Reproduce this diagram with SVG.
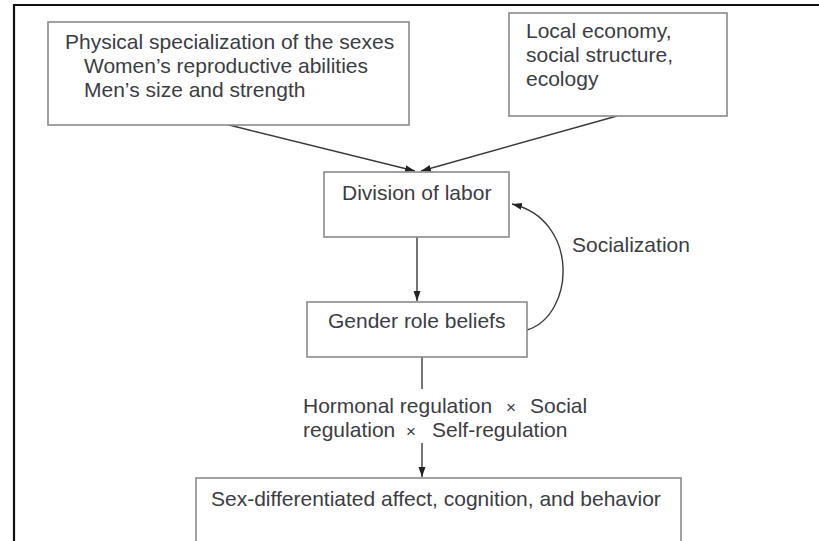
<svg xmlns="http://www.w3.org/2000/svg" width="819" height="541" viewBox="0 0 819 541">
  <style>
    .box { fill: #ffffff; stroke: #8a8a8a; stroke-width: 1.6; }
    .lbl { font-family: "Liberation Sans", Arial, sans-serif; font-size: 21px; fill: #3c3c44; }
    .edge { fill: none; stroke: #3a3a3a; stroke-width: 1.4; }
    .frame { fill: none; stroke: #111111; stroke-width: 2.2; }
  </style>
  <defs>
    <marker id="arrow" markerUnits="userSpaceOnUse" markerWidth="11" markerHeight="8" refX="10" refY="3.5" orient="auto">
      <path d="M0,0 L10,3.5 L0,7 z" fill="#222222"/>
    </marker>
  </defs>
  <rect x="0" y="0" width="819" height="541" fill="#ffffff"/>

  <!-- page frame (left and top rules) -->
  <path class="frame" d="M14,541 L14,5 L819,5"/>

  <g id="connectors">
    <line class="edge" x1="229" y1="125" x2="415" y2="171" marker-end="url(#arrow)"/>
    <line class="edge" x1="617" y1="116" x2="421" y2="171" marker-end="url(#arrow)"/>
    <line class="edge" x1="417" y1="237" x2="417" y2="301" marker-end="url(#arrow)"/>
    <path class="edge" d="M527,330 C575,315 580,220 512,204" marker-end="url(#arrow)"/>
    <line class="edge" x1="422" y1="357" x2="422" y2="389"/>
    <line class="edge" x1="422" y1="443" x2="422" y2="477" marker-end="url(#arrow)"/>
    <text class="lbl" x="572" y="252">Socialization</text>
    <text class="lbl"><tspan x="303" y="413">Hormonal regulation</tspan><tspan x="506" y="413" font-size="17">×</tspan><tspan x="530" y="413">Social</tspan></text>
    <text class="lbl"><tspan x="303" y="437">regulation</tspan><tspan x="406" y="437" font-size="17">×</tspan><tspan x="432" y="437">Self-regulation</tspan></text>
  </g>

  <g id="physical">
    <rect class="box" x="48" y="22" width="361" height="103"/>
    <text class="lbl" x="65" y="49">Physical specialization of the sexes</text>
    <text class="lbl" x="84" y="73">Women’s reproductive abilities</text>
    <text class="lbl" x="84" y="97">Men’s size and strength</text>
  </g>

  <g id="local">
    <rect class="box" x="509" y="13" width="218" height="103"/>
    <text class="lbl" x="526" y="38">Local economy,</text>
    <text class="lbl" x="526" y="62">social structure,</text>
    <text class="lbl" x="526" y="86">ecology</text>
  </g>

  <g id="division">
    <rect class="box" x="324" y="172" width="185" height="65"/>
    <text class="lbl" x="342" y="200">Division of labor</text>
  </g>

  <g id="beliefs">
    <rect class="box" x="307" y="302" width="220" height="55"/>
    <text class="lbl" x="328" y="328">Gender role beliefs</text>
  </g>

  <g id="outcome">
    <rect class="box" x="196" y="478" width="485" height="80"/>
    <text class="lbl" x="211" y="506">Sex-differentiated affect, cognition, and behavior</text>
  </g>
</svg>
